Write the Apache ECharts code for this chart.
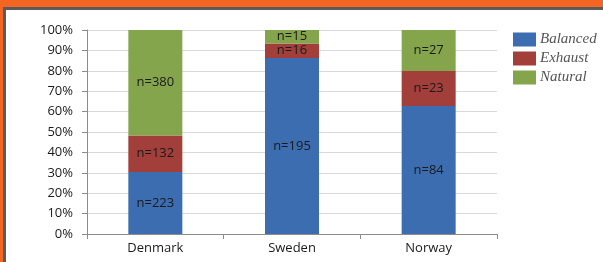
<!DOCTYPE html>
<html>
<head>
<meta charset="utf-8">
<script src="https://cdn.jsdelivr.net/npm/echarts@6/dist/echarts.min.js"></script>
<style>
  html, body { margin: 0; padding: 0; background: #fff; }
  #frame { width: 603px; height: 262px; box-sizing: border-box; border-top: 7px solid #F26522; border-left: 3px solid #F26522; }
  #inner { width: 600px; height: 255px; box-sizing: border-box; border-top: 3px solid #5b5b5b; border-left: 3px solid #5b5b5b; }
  #chart { position: absolute; left: 0; top: 0; width: 603px; height: 262px; }
</style>
</head>
<body>
<div id="frame"><div id="inner"></div></div>
<div id="chart"></div>
<script>
// counts per country (stacked to 100%)
var countries = ['Denmark', 'Sweden', 'Norway'];
var balanced = [223, 195, 84];
var exhaust = [132, 16, 23];
var natural = [380, 15, 27];
var seriesNames = ['Balanced', 'Exhaust', 'Natural'];
var colors = ['#3B6DB0', '#A33F3B', '#84A54B'];

var totals = countries.map(function (c, i) {
    return balanced[i] + exhaust[i] + natural[i];
});

function toPct(arr) {
    return arr.map(function (v, i) {
        return { value: v / totals[i] * 100, n: v };
    });
}

var myChart = echarts.init(document.getElementById('chart'));

var series = [balanced, exhaust, natural].map(function (arr, k) {
    return {
        name: seriesNames[k],
        type: 'bar',
        stack: 'all',
        barWidth: 54,
        itemStyle: { color: colors[k] },
        label: {
            show: true,
            position: 'inside',
            color: '#1a1a1a',
            fontFamily: 'Open Sans',
            fontSize: 13,
            formatter: function (p) { return 'n=' + p.data.n; }
        },
        data: toPct(arr)
    };
});

var option = {
    animation: false,
    grid: { left: 87, right: 106, top: 30, bottom: 28 },
    legend: {
        orient: 'vertical',
        left: 513,
        top: 32,
        padding: 0,
        itemWidth: 23,
        itemHeight: 14,
        itemGap: 4,
        icon: 'rect',
        data: seriesNames,
        textStyle: {
            fontFamily: 'Liberation Serif',
            fontStyle: 'italic',
            fontSize: 15,
            color: '#555',
            padding: [0, 0, 0, -1]
        }
    },
    xAxis: {
        type: 'category',
        data: countries,
        axisLine: { lineStyle: { color: '#8c8c8c' } },
        axisTick: { show: true, length: 5, lineStyle: { color: '#8c8c8c' } },
        axisLabel: { color: '#1a1a1a', fontFamily: 'Open Sans', fontSize: 13, margin: 8 }
    },
    yAxis: {
        type: 'value',
        min: 0,
        max: 100,
        interval: 10,
        axisLine: { show: true, lineStyle: { color: '#8c8c8c' } },
        axisTick: { show: true, length: 5, lineStyle: { color: '#8c8c8c' } },
        splitLine: { lineStyle: { color: '#d9d9d9' } },
        axisLabel: {
            color: '#1a1a1a',
            fontFamily: 'Open Sans',
            fontSize: 13,
            margin: 14,
            formatter: '{value}%'
        }
    },
    series: series
};

myChart.setOption(option);
</script>
</body>
</html>
